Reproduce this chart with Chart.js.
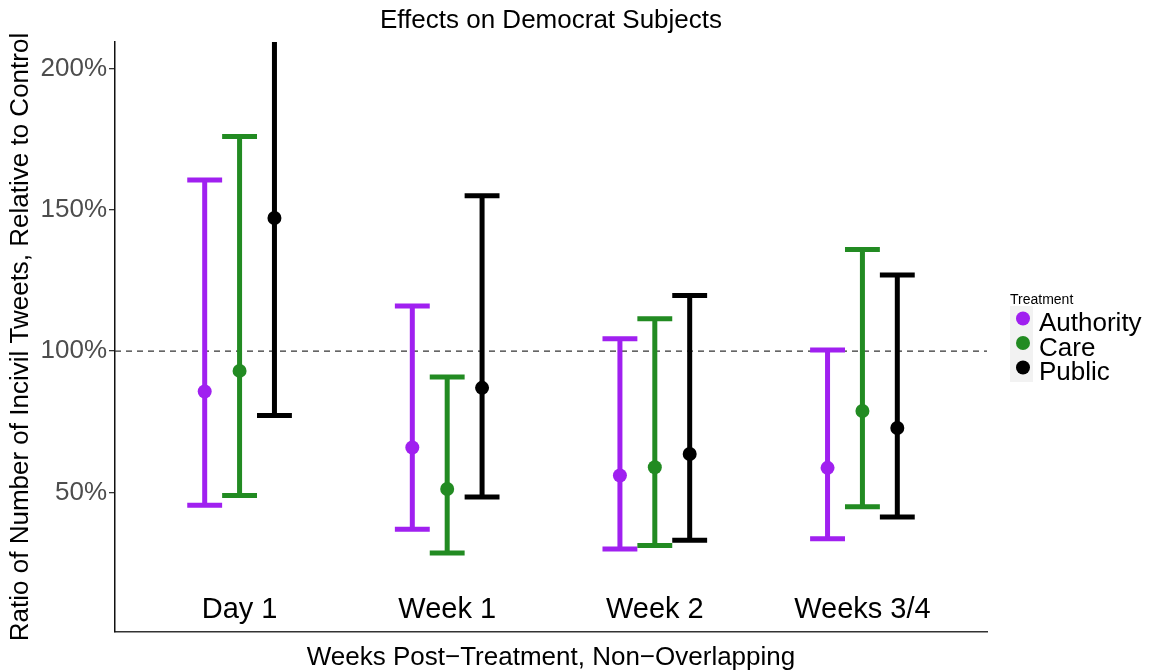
<!DOCTYPE html>
<html>
<head>
<meta charset="utf-8">
<script src="https://cdn.jsdelivr.net/npm/chart.js@4/dist/chart.umd.min.js"></script>
<style>
  body { margin: 0; background: #fff; }
</style>
</head>
<body>
<canvas id="chart" width="1149" height="672"></canvas>
<script>
// Week groups and treatments
const categories = ["Day 1", "Week 1", "Week 2", "Weeks 3/4"];
const treatments = ["Authority", "Care", "Public"];
const colors = ["#A020F0", "#228B22", "#000000"];

// Estimated ratio (in %) and confidence bounds
const authorityEst = [85.7, 65.9, 56.0, 58.7];
const careEst = [93.0, 51.2, 58.9, 78.8];
const publicEst = [147.1, 87.0, 63.6, 72.8];

const authorityLow = [45.5, 37.0, 30.0, 33.6];
const careLow = [48.9, 28.6, 31.2, 44.9];
const publicLow = [77.2, 48.4, 33.1, 41.3];

const authorityHigh = [160.6, 116.0, 104.4, 100.4];
const careHigh = [176.0, 90.8, 111.5, 136.0];
const publicHigh = [235.0, 155.0, 119.7, 126.9];

const yTicks = [50, 100, 150, 200];
const refLine = 100;

const estimates = [authorityEst, careEst, publicEst];
const lows = [authorityLow, careLow, publicLow];
const highs = [authorityHigh, careHigh, publicHigh];

const dodge = [-0.168, 0, 0.168];
const capHalf = 0.084;
const FONT = "'Liberation Sans', Arial, sans-serif";

Chart.defaults.font.family = FONT;

// error bars and the dashed reference line, drawn under the points
const errorBars = {
  id: "errorBars",
  beforeDatasetsDraw(chart) {
    const { ctx, chartArea, scales: { x, y } } = chart;
    ctx.save();
    ctx.beginPath();
    ctx.rect(chartArea.left, chartArea.top, chartArea.width, chartArea.height);
    ctx.clip();

    const yRef = y.getPixelForValue(refLine);
    ctx.strokeStyle = "#333";
    ctx.lineWidth = 1.3;
    ctx.setLineDash([6, 5]);
    ctx.beginPath();
    ctx.moveTo(chartArea.left, yRef);
    ctx.lineTo(chartArea.right, yRef);
    ctx.stroke();
    ctx.setLineDash([]);

    ctx.lineWidth = 5;
    ctx.lineCap = "butt";
    treatments.forEach((t, s) => {
      ctx.strokeStyle = colors[s];
      categories.forEach((c, i) => {
        const xv = i + 1 + dodge[s];
        const px = x.getPixelForValue(xv);
        const half = x.getPixelForValue(xv + capHalf) - px;
        const lo = y.getPixelForValue(lows[s][i]);
        const hi = y.getPixelForValue(highs[s][i]);
        ctx.beginPath();
        ctx.moveTo(px, lo); ctx.lineTo(px, hi);
        ctx.moveTo(px - half, lo); ctx.lineTo(px + half, lo);
        ctx.moveTo(px - half, hi); ctx.lineTo(px + half, hi);
        ctx.stroke();
      });
    });
    ctx.restore();
  }
};

// title, category labels inside the panel, and the legend
const annotations = {
  id: "annotations",
  afterDraw(chart) {
    const { ctx, chartArea, scales: { x } } = chart;
    ctx.save();
    ctx.fillStyle = "#000";
    ctx.textAlign = "center";
    ctx.textBaseline = "alphabetic";
    ctx.font = "26px " + FONT;
    ctx.fillText("Effects on Democrat Subjects", (chartArea.left + chartArea.right) / 2, 28);

    ctx.font = "29px " + FONT;
    categories.forEach((c, i) => {
      ctx.fillText(c, x.getPixelForValue(i + 1), 618);
    });

    // legend
    ctx.textAlign = "left";
    ctx.font = "14px " + FONT;
    ctx.fillText("Treatment", 1010, 304);
    ctx.fillStyle = "#f2f2f2";
    ctx.fillRect(1010, 306, 23, 76);
    ctx.font = "26px " + FONT;
    treatments.forEach((t, s) => {
      const cy = 318.5 + s * 24.5;
      ctx.fillStyle = colors[s];
      ctx.beginPath();
      ctx.arc(1023, cy, 7, 0, Math.PI * 2);
      ctx.fill();
      ctx.fillStyle = "#000";
      ctx.fillText(t, 1039, cy + 12.5);
    });
    ctx.restore();
  }
};

new Chart(document.getElementById("chart").getContext("2d"), {
  type: "scatter",
  data: {
    datasets: treatments.map((t, s) => ({
      label: t,
      data: estimates[s].map((v, i) => ({ x: i + 1 + dodge[s], y: v })),
      backgroundColor: colors[s],
      borderWidth: 0,
      pointRadius: 7,
      pointHoverRadius: 7
    }))
  },
  options: {
    responsive: false,
    animation: false,
    layout: { padding: { top: 42, right: 162, left: 0, bottom: 0 } },
    plugins: {
      legend: { display: false },
      tooltip: { enabled: false },
      title: { display: false }
    },
    scales: {
      x: {
        type: "linear",
        min: 0.4,
        max: 4.6,
        afterFit: s => { s.height = 40; },
        grid: { display: false },
        border: { display: true, color: "#333", width: 1.5 },
        ticks: { display: false },
        title: {
          display: true,
          text: "Weeks Post\u2212Treatment, Non\u2212Overlapping",
          color: "#000",
          font: { size: 26, lineHeight: 1.1 },
          padding: 0
        }
      },
      y: {
        type: "linear",
        min: 0.6,
        max: 209.4,
        afterFit: s => { s.width = 115; },
        afterBuildTicks: s => { s.ticks = yTicks.map(v => ({ value: v })); },
        grid: { display: true, drawOnChartArea: false, drawTicks: true, tickLength: 6, color: "#333", lineWidth: 1.3 },
        border: { display: true, color: "#111", width: 1.5 },
        ticks: { color: "#4d4d4d", font: { size: 26 }, padding: 2, callback: v => v + "%" },
        title: {
          display: true,
          text: "Ratio of Number of Incivil Tweets, Relative to Control",
          color: "#000",
          font: { size: 26 },
          padding: { top: 5, bottom: 0 }
        }
      }
    }
  },
  plugins: [errorBars, annotations]
});
</script>
</body>
</html>
